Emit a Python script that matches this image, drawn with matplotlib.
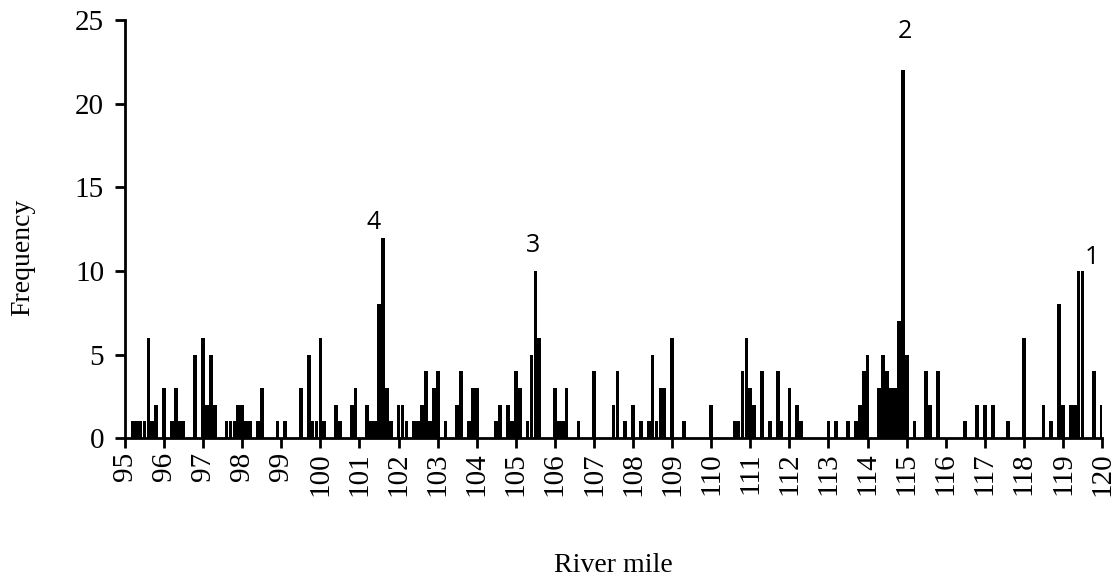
import numpy as np
import matplotlib
matplotlib.use('Agg')
import matplotlib.pyplot as plt

# river mile bins (0.1 mi) that have sightings, and their counts
miles = [95.2, 95.3, 95.4, 95.5, 95.6, 95.7, 95.8,
         96.0, 96.2, 96.3, 96.4, 96.5,
         96.8, 97.0, 97.1, 97.2, 97.3,
         97.6, 97.7, 97.8, 97.9, 98.0, 98.1,
         98.2, 98.4, 98.5,
         98.9, 99.1, 99.5, 99.7, 99.8, 99.9, 100.0, 100.1,
         100.4, 100.5, 100.8, 100.9, 101.2, 101.3, 101.4, 101.5, 101.6, 101.7, 101.8,
         102.0, 102.1, 102.2, 102.4, 102.5, 102.6, 102.7, 102.8, 102.9, 103.0, 103.2,
         103.5, 103.6, 103.8, 103.9, 104.0,
         104.5, 104.6, 104.8, 104.9, 105.0, 105.1, 105.3, 105.4, 105.5, 105.6,
         106.0, 106.1, 106.2, 106.3, 106.6, 107.0, 107.5, 107.6, 107.8, 108.0, 108.2,
         108.4, 108.5, 108.6, 108.7, 108.8, 109.0, 109.3, 110.0,
         110.6, 110.7, 110.8, 110.9, 111.0, 111.1, 111.3, 111.5, 111.7, 111.8, 112.0, 112.2, 112.3,
         113.0, 113.2, 113.5, 113.7, 113.8, 113.9, 114.0,
         114.3, 114.4, 114.5, 114.6, 114.7, 114.8, 114.9, 115.0, 115.2, 115.5, 115.6, 115.8,
         116.5, 116.8, 117.0, 117.2, 117.6, 118.0, 118.5, 118.7, 118.9, 119.0, 119.2, 119.3,
         119.4, 119.5, 119.8, 120.0]
freq = [1, 1, 1, 1, 6, 1, 2,
        3, 1, 3, 1, 1,
        5, 6, 2, 5, 2,
        1, 1, 1, 2, 2, 1,
        1, 1, 3,
        1, 1, 3, 5, 1, 1, 6, 1,
        2, 1, 2, 3, 2, 1, 1, 8, 12, 3, 1,
        2, 2, 1, 1, 1, 2, 4, 1, 3, 4, 1,
        2, 4, 1, 3, 3,
        1, 2, 2, 1, 4, 3, 1, 5, 10, 6,
        3, 1, 1, 3, 1, 4, 2, 4, 1, 2, 1,
        1, 5, 1, 3, 3, 6, 1, 2,
        1, 1, 4, 6, 3, 2, 4, 1, 4, 1, 3, 2, 1,
        1, 1, 1, 1, 2, 4, 5,
        3, 5, 4, 3, 3, 7, 22, 5, 1, 4, 2, 4,
        1, 2, 2, 2, 1, 6, 2, 1, 8, 2, 2, 2,
        10, 10, 4, 2]

# numbered peaks
peak_labels = ['1', '2', '3', '4']
peak_x = [119.75, 114.95, 105.45, 101.35]
peak_y = [10.8, 24.3, 11.5, 12.9]

serif = ['Liberation Serif', 'DejaVu Serif']

fig = plt.figure(figsize=(11.2, 5.78), dpi=100)
ax = fig.add_axes([0.1116, 0.242, 0.8724, 0.723])

ax.bar(miles, freq, width=0.095, color='black', linewidth=0)

ax.set_xlim(95, 120)
ax.set_ylim(0, 25)
ax.set_xticks(np.arange(95, 121, 1))
ax.set_yticks(np.arange(0, 26, 5))
ax.set_xticklabels([str(v) for v in range(95, 121)], rotation=90,
                   fontsize=21, family=serif)
ax.set_yticklabels([str(v) for v in range(0, 26, 5)], fontsize=21, family=serif)

for s in ['top', 'right']:
    ax.spines[s].set_visible(False)
for s in ['left', 'bottom']:
    ax.spines[s].set_linewidth(2)
ax.tick_params(axis='both', direction='out', length=7, width=2, color='black')
ax.tick_params(axis='x', pad=3)
ax.tick_params(axis='y', pad=8)

for t, x, y in zip(peak_labels, peak_x, peak_y):
    ax.text(x, y, t, ha='center', va='center', fontsize=18,
            family=['Open Sans', 'DejaVu Sans'])

fig.text(0.02, 1 - 257 / 578, 'Frequency', rotation=90, ha='center', va='center',
         fontsize=20, family=serif)
fig.text(613 / 1120, 1 - 566 / 578, 'River mile', ha='center', va='center',
         fontsize=20, family=serif)

fig.savefig('out.png', dpi=100)
